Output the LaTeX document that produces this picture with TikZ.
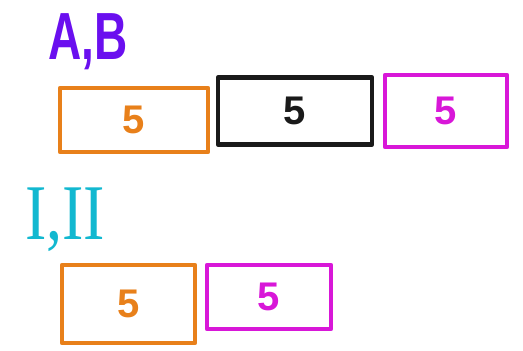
\documentclass[tikz,border=0pt]{standalone}
\usepackage{fontspec}
\setmainfont{Liberation Sans}
\newfontfamily\romanfont{Liberation Serif}
\definecolor{penorange}{HTML}{E8801A}
\definecolor{penmagenta}{HTML}{D817D8}
\definecolor{penpurple}{HTML}{6A0FEF}
\definecolor{pencyan}{HTML}{12B8D0}
\definecolor{penblack}{HTML}{1A1A1A}
\tikzset{
  cell/.style={draw=#1, text=#1, line width=4.5pt, line cap=round, line join=round,
    font=\bfseries\fontsize{40}{40}\selectfont},
  tag/.style={text=#1, font=\bfseries\fontsize{46}{46}\selectfont, yscale=1.45}
}
\begin{document}
\begin{tikzpicture}[x=1pt,y=-1pt]
  \useasboundingbox (0,0) rectangle (523,351);
  % First group
  \node[tag=penpurple] (tagAB) at (88,42) {A,B};
  \node[cell=penorange, minimum width=148pt, minimum height=64pt] (abone) at (134,120) {5};
  \node[cell=penblack, minimum width=154pt, minimum height=67pt] (abtwo) at (295,111) {5};
  \node[cell=penmagenta, minimum width=122pt, minimum height=72pt] (abthree) at (446,111) {5};
  % Second group
  \node[tag=pencyan, font=\romanfont\fontsize{64}{64}\selectfont, yscale=0.85] (tagI) at (65,220) {I,II};
  \node[cell=penorange, minimum width=133pt, minimum height=78pt] (ione) at (128.5,304) {5};
  \node[cell=penmagenta, minimum width=124pt, minimum height=64pt] (itwo) at (269,297) {5};
\end{tikzpicture}
\end{document}
